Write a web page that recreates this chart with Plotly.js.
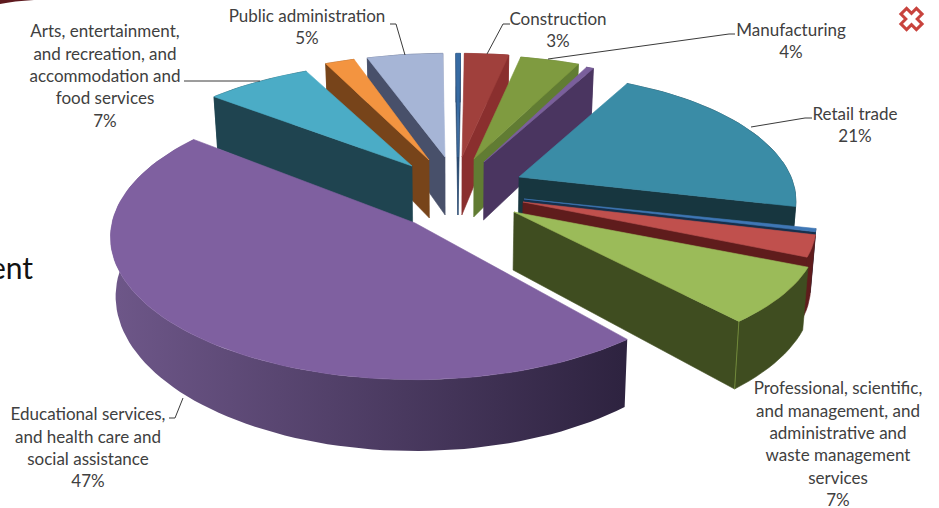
<!DOCTYPE html>
<html>
<head>
<meta charset="utf-8">
<script src="https://cdn.plot.ly/plotly-3.0.1.min.js"></script>
<style>html,body{margin:0;padding:0;background:#fff;overflow:hidden}#chart{width:939px;height:508px}</style>
</head>
<body>
<div id="chart"></div>
<script>
// Industry shares, clockwise from twelve o'clock
const categories = ['Agriculture', 'Construction', 'Manufacturing', 'Wholesale trade', 'Retail trade',
  'Transportation and utilities', 'Information', 'Professional services', 'Educational and health services',
  'Arts and food services', 'Other services', 'Public administration'];
const shares = [0.3, 3, 4, 0.5, 21, 0.4, 2.7, 7, 47, 7, 2, 5];

// Label text, one array of lines per category; null means the slice carries no label
const labelLines = [
  null,
  ['Construction'],
  ['Manufacturing'],
  null,
  ['Retail trade'],
  null,
  null,
  ['Professional, scientific,', 'and management, and', 'administrative and', 'waste management', 'services'],
  ['Educational services,', 'and health care and', 'social assistance'],
  ['Arts, entertainment,', 'and recreation, and', 'accommodation and', 'food services'],
  null,
  ['Public administration']
];
const labelCentreX = [0, 558, 791, 0, 855, 0, 0, 838, 88, 105, 0, 307];
const labelFirstY  = [0, 20.5, 31.5, 0, 115.5, 0, 0, 390, 416, 33, 0, 17.5];

// Leader lines from label to slice
const leaderX = [[390, 396, 405], [510, 503, 487], [735, 729, 548], [812, 805, 751], [184, 260], [169, 175, 183]];
const leaderY = [[24, 24, 55], [24, 24, 54], [34, 34, 59], [118, 118, 127], [81, 81], [418, 418, 398]];

// Colours of the upper faces and the walls
const topColors  = ['#376ba3', '#a0403c', '#7f9b40', '#7a5f9c', '#3a8ca6', '#3f77b5', '#c0504d', '#9bbb59', '#7f60a0', '#4bacc6', '#f39440', '#a6b5d6'];
const wallColors = ['#2a4a70', '#8a2f2e', '#617c33', '#4a3560', '#17363f', '#16304c', '#5f1c1c', '#3f4d20', '#4a3860', '#1f4450', '#77441a', '#48506a'];
const rimShadeLeft = '#6e5789', rimShadeRight = '#2e2340';

// Pie construction: centre, explosion of each slice, and view parameters
const centreX = 453, centreY = 189, startDeg = -0.5, depth = 58, basePerspective = 0.187;
const explodeX = [5, 9, 21, 31, 66, 71, 70, 61, -38, -41, -24, -8];
const explodeY = [-32, -32, -30, -27, -12, 10, 13, 23, 34, -23, -29, -32];
const radiusX  = [280, 280, 280, 275, 272, 287, 288, 298, 303, 285, 278, 288];
const radiusY  = [123, 123, 123, 123, 123, 123, 123, 123, 141, 123, 125, 123];
const perspective = [0.187, 0.187, 0.187, 0.187, 0.187, 0.187, 0.187, 0.187, 0.1, 0.187, 0.187, 0.187];

const total = shares.reduce((a, b) => a + b, 0);
const rad = d => d * Math.PI / 180;
let running = 0;
const slices = shares.map((v, i) => {
  const from = startDeg + running / total * 360;
  running += v;
  const to = startDeg + running / total * 360;
  return { i, from, to, mid: (from + to) / 2 };
});

function project(i, deg, lower) {
  const ax = centreX + explodeX[i], ay = centreY + explodeY[i];
  const X = Math.sin(rad(deg)), Y = Math.cos(rad(deg));
  const w = 1 + perspective[i] * Y;
  let x = ax + radiusX[i] * X / w, y = ay - radiusY[i] * Y / w;
  if (lower) {
    x = centreX + (x - centreX) * 0.985;
    y += depth / (1 + basePerspective * Y);
  }
  return [x, y];
}
function apex(i, lower) {
  const ax = centreX + explodeX[i], ay = centreY + explodeY[i];
  return lower ? [centreX + (ax - centreX) * 0.985, ay + depth] : [ax, ay];
}
function arc(s, lower) {
  const n = Math.max(2, Math.ceil((s.to - s.from) / 2));
  const pts = [];
  for (let k = 0; k <= n; k++) pts.push(project(s.i, s.from + (s.to - s.from) * k / n, lower));
  return pts;
}
function polygon(pts, color, name) {
  const xs = pts.map(p => p[0]), ys = pts.map(p => p[1]);
  xs.push(xs[0]); ys.push(ys[0]);
  return { type: 'scatter', mode: 'lines', x: xs, y: ys, fill: 'toself', fillcolor: color,
    line: { color, width: 0.6 }, hoverinfo: 'skip', name, showlegend: false };
}

const traces = [];
// Paint slices from the back of the pie to the front
slices.slice().sort((a, b) => Math.cos(rad(b.mid)) - Math.cos(rad(a.mid))).forEach(s => {
  const i = s.i, name = categories[i];
  const top = arc(s, false), low = arc(s, true);
  // Outer rim; the largest slice darkens from left to right
  const rim = polygon(top.concat(low.slice().reverse()), wallColors[i], name);
  if (i === 8) {
    rim.line = { width: 0 };
    rim.fillgradient = { type: 'horizontal', start: 110, stop: 622,
      colorscale: [[0, rimShadeLeft], [1, rimShadeRight]] };
  }
  traces.push(rim);
  // Radial walls that face the viewer
  if (Math.sin(rad(s.from)) < 0)
    traces.push(polygon([apex(i, false), top[0], low[0], apex(i, true)], wallColors[i], name));
  if (Math.sin(rad(s.to)) > 0)
    traces.push(polygon([apex(i, false), top[top.length - 1], low[low.length - 1], apex(i, true)], wallColors[i], name));
  // Lit corner where the wedge wall meets the rim
  if (i === 7) {
    const a = top[top.length - 1], b = low[low.length - 1];
    traces.push({ type: 'scatter', mode: 'lines', x: [a[0], b[0]], y: [a[1], b[1]],
      line: { color: '#71893a', width: 1 }, hoverinfo: 'skip', showlegend: false });
  }
  // Upper face
  traces.push(polygon([apex(i, false)].concat(top), topColors[i], name));
});

// Leader lines
leaderX.forEach((xs, k) => traces.push({ type: 'scatter', mode: 'lines', x: xs, y: leaderY[k],
  line: { color: '#3a3a3a', width: 1 }, hoverinfo: 'skip', showlegend: false }));

// Labels: one text point per line, closing with the percentage
const textX = [], textY = [], textS = [];
const lineGap = 22.4;
labelLines.forEach((lines, i) => {
  if (!lines) return;
  lines.concat([shares[i] + '%']).forEach((line, k) => {
    textX.push(labelCentreX[i]); textY.push(labelFirstY[i] + k * lineGap); textS.push(line);
  });
});
traces.push({ type: 'scatter', mode: 'text', x: textX, y: textY, text: textS, textposition: 'middle center',
  textfont: { family: 'Lato, sans-serif', size: 17, color: '#404040' }, hoverinfo: 'skip', showlegend: false });

// Slide text running in from the left edge
traces.push({ type: 'scatter', mode: 'text', x: [-10], y: [271], text: ['ent'], textposition: 'middle right',
  textfont: { family: 'Lato, sans-serif', size: 30, color: '#111111' }, hoverinfo: 'skip', showlegend: false });

// Cross-shaped slide ornament, upper right
const arm = 11, half = 4;
const crossLocal = [[-half, -arm], [half, -arm], [half, -half], [arm, -half], [arm, half], [half, half],
  [half, arm], [-half, arm], [-half, half], [-arm, half], [-arm, -half], [-half, -half]];
const crossPath = crossLocal.map((p, k) => {
  const x = 911.5 + (p[0] - p[1]) * Math.SQRT1_2, y = 19 + (p[0] + p[1]) * Math.SQRT1_2;
  return (k ? 'L' : 'M') + x.toFixed(1) + ',' + y.toFixed(1);
}).join(' ') + ' Z';

const layout = {
  width: 939, height: 508, margin: { l: 0, r: 0, t: 0, b: 0 },
  paper_bgcolor: '#ffffff', plot_bgcolor: '#ffffff', showlegend: false,
  xaxis: { range: [0, 939], visible: false, fixedrange: true },
  yaxis: { range: [508, 0], visible: false, fixedrange: true },
  shapes: [
    { type: 'path', xref: 'x', yref: 'y', path: crossPath, fillcolor: '#ffffff', line: { color: '#c8433d', width: 3 } },
    { type: 'path', xref: 'x', yref: 'y', path: 'M0,0 L34,0 Q14,1 0,4 Z', fillcolor: '#5e1a1f', line: { width: 0 } }
  ]
};
Plotly.newPlot('chart', traces, layout, { staticPlot: true, displayModeBar: false });
</script>
</body>
</html>
